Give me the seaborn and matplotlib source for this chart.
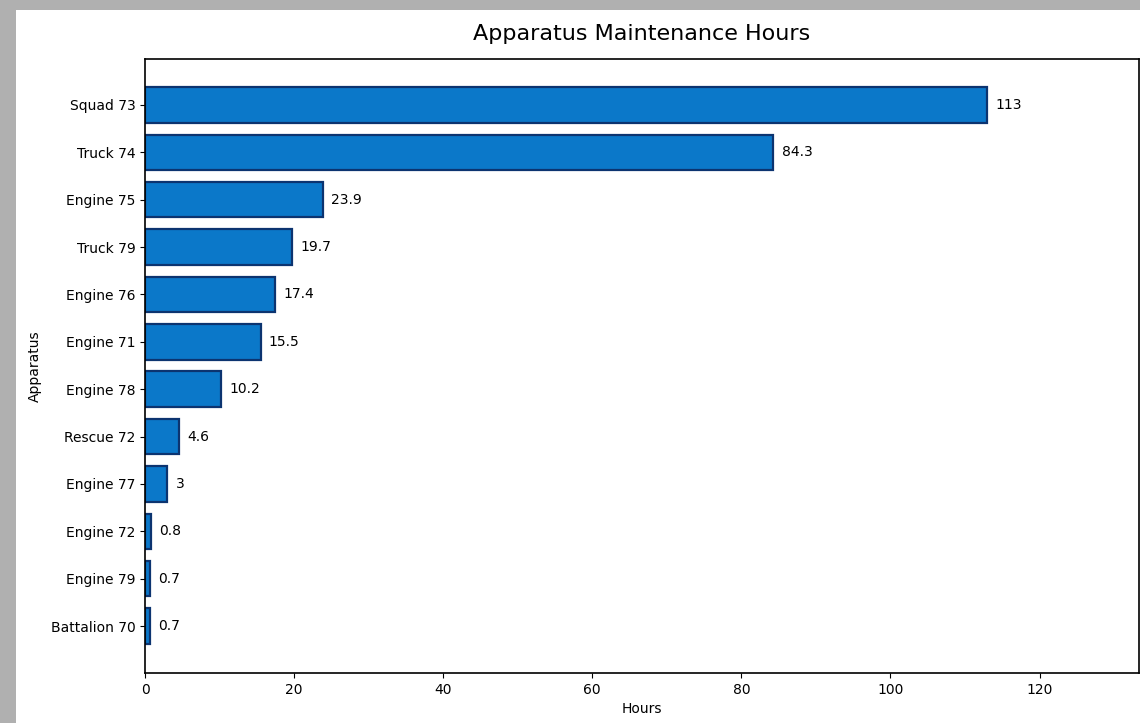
import matplotlib
matplotlib.use("Agg")
import matplotlib.pyplot as plt
import seaborn as sns
from matplotlib.patches import Rectangle

sns.set_style("ticks")
plt.rcParams["font.family"] = ["DejaVu Sans"]
plt.rcParams["text.color"] = "black"
plt.rcParams["axes.labelcolor"] = "black"

# Data
apparatus = [
    "Squad 73", "Truck 74", "Engine 75", "Truck 79", "Engine 76", "Engine 71",
    "Engine 78", "Rescue 72", "Engine 77", "Engine 72", "Engine 79", "Battalion 70"
]
hours = [113, 84.3, 23.9, 19.7, 17.4, 15.5, 10.2, 4.6, 3, 0.8, 0.7, 0.7]

fig = plt.figure(figsize=(11.4, 7.23), dpi=100)
fig.patch.set_facecolor("#b0b0b0")
# white screenshot area inside the grey frame
fig.patches.append(Rectangle((16 / 1140, 0), 1, 1 - 10 / 723, transform=fig.transFigure,
                             facecolor="white", edgecolor="none", zorder=-10))

ax = fig.add_axes([145 / 1140, 1 - 673 / 723, (1139 - 145) / 1140, (673 - 59) / 723])
sns.barplot(
    x=hours,
    y=apparatus,
    orient="h",
    color="#0b78c9",
    saturation=1,
    edgecolor="#0c3470",
    linewidth=1.6,
    width=0.75,
    ax=ax
)
for container in ax.containers:
    ax.bar_label(container, labels=[f"{v:g}" for v in hours], padding=6,
                 fontsize=10, color="black")

ax.set_xlim(0, max(hours) * 1.18)
ax.set_ylim(len(hours) - 1 + 0.99, -0.97)
ax.set_title("Apparatus Maintenance Hours", fontsize=16, pad=14, color="black")
ax.set_xlabel("Hours", fontsize=10, labelpad=4)
ax.set_ylabel("Apparatus", fontsize=10, labelpad=6)
ax.tick_params(labelsize=10, colors="black")
for s in ax.spines.values():
    s.set_color("black")
    s.set_linewidth(1.2)

fig.savefig("out.png", dpi=100, facecolor=fig.get_facecolor())
